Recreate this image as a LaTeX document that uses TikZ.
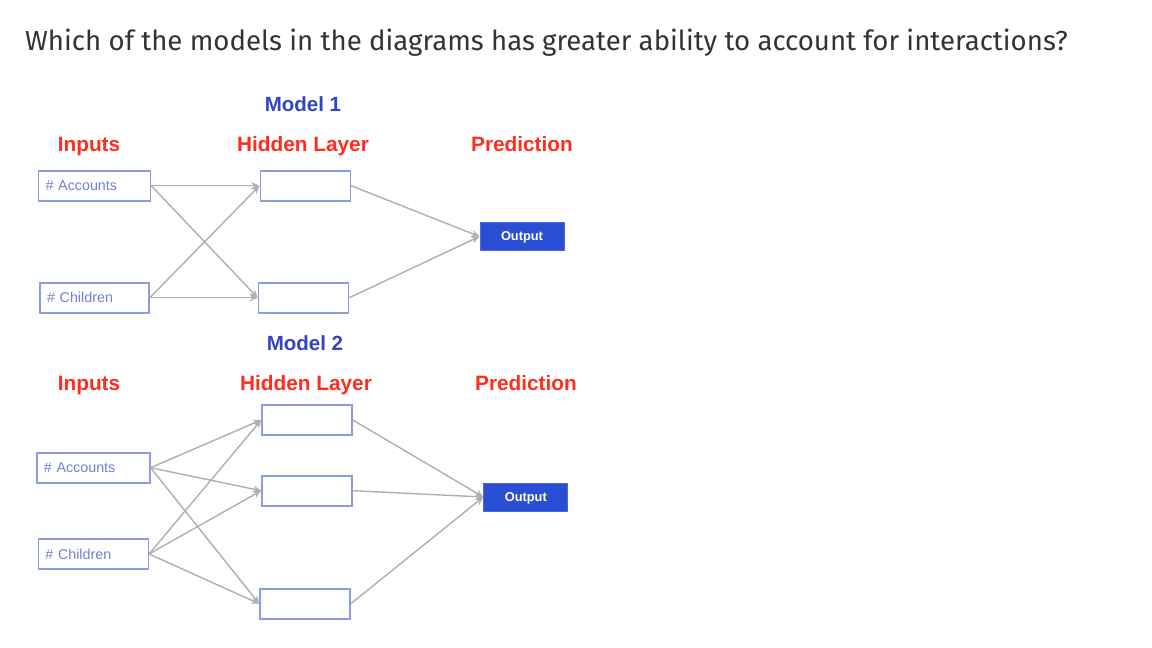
\documentclass[tikz,border=0pt]{standalone}
\usepackage{fontspec}
\setmainfont{Liberation Sans}
\newfontfamily\titlefont{Fira Sans}
\usetikzlibrary{arrows.meta}
\definecolor{lblred}{RGB}{255,45,30}
\definecolor{modelblue}{RGB}{51,68,196}
\definecolor{boxblue}{RGB}{140,155,230}
\definecolor{intext}{RGB}{112,128,216}
\definecolor{outblue}{RGB}{42,79,212}
\definecolor{conngray}{RGB}{175,175,175}
\definecolor{titlegray}{RGB}{51,51,51}
\begin{document}
\begin{tikzpicture}[x=1pt,y=-1pt,
  inbox/.style={draw=boxblue, line width=1.6pt, minimum height=30pt, inner xsep=7pt, inner ysep=0pt,
    text width=#1, align=left, font=\fontsize{14.3}{16}\selectfont, text=intext},
  hidbox/.style={draw=boxblue, line width=1.6pt, minimum width=90pt, minimum height=30pt, inner sep=0pt},
  outbox/.style={fill=outblue, draw=outblue!85!white, line width=1pt, minimum width=84pt, minimum height=28pt,
    inner sep=0pt, text depth=0pt, text=white, font=\bfseries\fontsize{12.8}{14}\selectfont},
  lbl/.style={anchor=base, inner sep=0pt, text=lblred, font=\bfseries\fontsize{20.8}{23}\selectfont},
  mdl/.style={anchor=base, inner sep=0pt, text=modelblue, font=\bfseries\fontsize{20.5}{23}\selectfont},
  conn/.style={draw=conngray, line width=1.4pt, -{Stealth[length=8pt,width=7pt]}}
]
\useasboundingbox (0,0) rectangle (1152,648);
\fill[white] (0,0) rectangle (1152,648);

\node[anchor=base west, inner sep=0pt, text=titlegray, font=\titlefont\fontsize{27.6}{32}\selectfont] (title) at (25,50)
  {Which of the models in the diagrams has greater ability to account for interactions?};

% ---------- Model 1 ----------
\node[mdl] (m1) at (303,111) {Model 1};
\node[lbl] (in1) at (89,151) {Inputs};
\node[lbl] (hl1) at (303,151) {Hidden Layer};
\node[lbl] (pr1) at (522,151) {Prediction};

\node[inbox=98pt] (a1) at (94.5,185.7) {\# Accounts};
\node[inbox=95pt] (c1) at (94.5,297.7) {\# Children};
\node[hidbox] (h1a) at (305.3,185.7) {};
\node[hidbox] (h1b) at (303.5,297.7) {};
\node[outbox] (o1) at (522,236.5) {Output};

\draw[conn] (a1.east) -- (h1a.west);
\draw[conn] (a1.east) -- (h1b.west);
\draw[conn] (c1.east) -- (h1a.west);
\draw[conn] (c1.east) -- (h1b.west);
\draw[conn] (h1a.east) -- (o1.west);
\draw[conn] (h1b.east) -- (o1.west);

% ---------- Model 2 ----------
\node[mdl] (m2) at (305,350) {Model 2};
\node[lbl] (in2) at (89,390) {Inputs};
\node[lbl] (hl2) at (306,390) {Hidden Layer};
\node[lbl] (pr2) at (526,390) {Prediction};

\node[inbox=99pt] (a2) at (93.3,467.7) {\# Accounts};
\node[inbox=96pt] (c2) at (93.3,554) {\# Children};
\node[hidbox] (h2a) at (307,420) {};
\node[hidbox] (h2b) at (307,490.7) {};
\node[hidbox] (h2c) at (305,603.7) {};
\node[outbox] (o2) at (525.8,497) {Output};

\draw[conn] (a2.east) -- (h2a.west);
\draw[conn] (a2.east) -- (h2b.west);
\draw[conn] (a2.east) -- (h2c.west);
\draw[conn] (c2.east) -- (h2a.west);
\draw[conn] (c2.east) -- (h2b.west);
\draw[conn] (c2.east) -- (h2c.west);
\draw[conn] (h2a.east) -- (o2.west);
\draw[conn] (h2b.east) -- (o2.west);
\draw[conn] (h2c.east) -- (o2.west);
\end{tikzpicture}
\end{document}
